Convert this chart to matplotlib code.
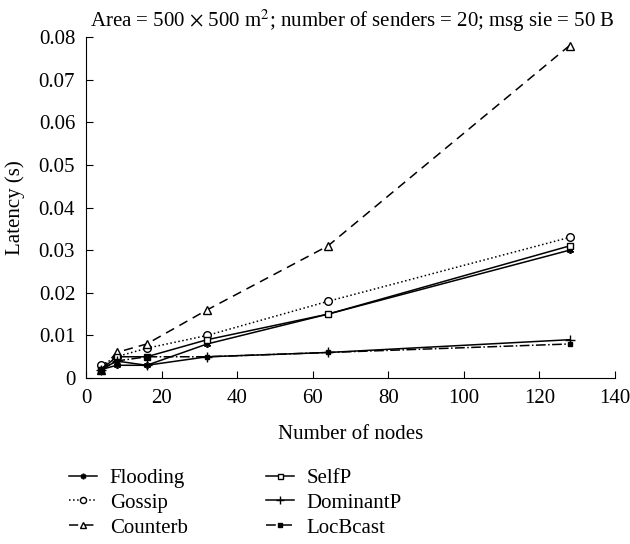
import matplotlib
matplotlib.use("Agg")
import matplotlib.pyplot as plt

plt.rcParams['font.family'] = ['Liberation Serif', 'DejaVu Serif']
plt.rcParams['mathtext.fontset'] = 'stix'

nodes = [4, 8, 16, 32, 64, 128]
flooding = [0.002, 0.003, 0.003, 0.008, 0.015, 0.030]
gossip = [0.003, 0.005, 0.007, 0.010, 0.018, 0.033]
counterb = [0.002, 0.006, 0.008, 0.016, 0.031, 0.078]
selfp = [0.002, 0.005, 0.005, 0.009, 0.015, 0.031]
dominantp = [0.002, 0.004, 0.003, 0.005, 0.006, 0.009]
locbcast = [0.002, 0.004, 0.005, 0.005, 0.006, 0.008]

fig = plt.figure(figsize=(6.3, 5.44), dpi=100)
ax = fig.add_axes([0.137, 0.305, 0.839, 0.627])

ax.plot(nodes, flooding, '-', color='black', lw=1.1, marker=(6, 2, 0), ms=5, mew=1.2, label='Flooding')
ax.plot(nodes, gossip, ':', color='black', lw=1.1, marker='o', ms=5.5, mfc='white', mew=1, label='Gossip')
ax.plot(nodes, counterb, '--', color='black', lw=1.1, dashes=(6, 4), marker='^', ms=5.5, mfc='white', mew=1, label='Counterb')
ax.plot(nodes, selfp, '-', color='black', lw=1.1, marker='s', ms=4.5, mfc='white', mew=1, label='SelfP')
ax.plot(nodes, dominantp, '-', color='black', lw=1.1, marker='+', ms=7, mew=1, label='DominantP')
ax.plot(nodes, locbcast, '-.', color='black', lw=1.1, marker='s', ms=3.5, mfc='black', label='LocBcast')

ax.set_xlim(0, 140)
ax.set_ylim(0, 0.08)
ax.set_xticks(range(0, 141, 20))
ax.set_yticks([i / 100 for i in range(0, 9)])
ax.set_yticklabels(['0'] + ['%.2f' % (i / 100) for i in range(1, 9)])
ax.spines['top'].set_visible(False)
ax.spines['right'].set_visible(False)
ax.tick_params(direction='in', labelsize=15, length=5, pad=8)
ax.set_xlabel('Number of nodes', fontsize=15, labelpad=12)
ax.set_ylabel('Latency (s)', fontsize=15, labelpad=10)
ax.set_title(r'Area = 500 $\times$ 500 m$^2$; number of senders = 20; msg sie = 50 B',
             fontsize=15, loc='right', pad=7)

leg = ax.legend(loc='upper left', bbox_to_anchor=(-0.06, -0.222), ncol=2, frameon=False,
                fontsize=15, handlelength=1.35, handletextpad=0.6, columnspacing=3.75,
                labelspacing=0.25, borderpad=0.2, markerscale=0.8)

fig.savefig('out.png')
